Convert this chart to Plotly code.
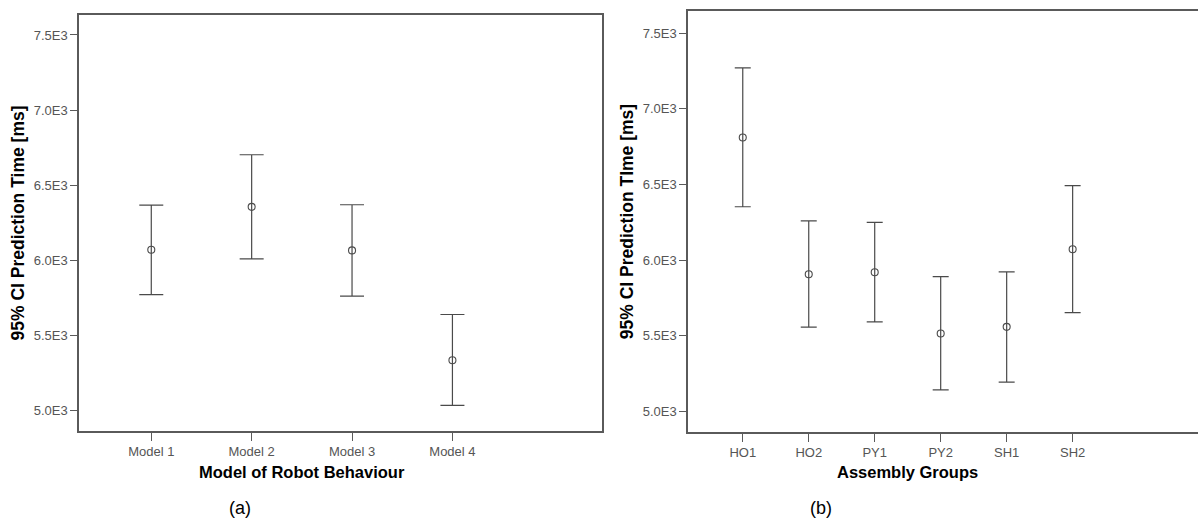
import plotly.graph_objects as go

# ---- data ----
models = ["Model 1", "Model 2", "Model 3", "Model 4"]
model_mean = [6069, 6355, 6065, 5333]
model_upper = [6367, 6702, 6369, 5638]
model_lower = [5771, 6009, 5760, 5033]

groups = ["HO1", "HO2", "PY1", "PY2", "SH1", "SH2"]
group_mean = [6811, 5907, 5920, 5515, 5559, 6072]
group_upper = [7271, 6259, 6250, 5891, 5922, 6492]
group_lower = [6353, 5557, 5592, 5143, 5194, 5653]

y_tickvals = [5000, 5500, 6000, 6500, 7000, 7500]
y_ticktext = ["5.0E3", "5.5E3", "6.0E3", "6.5E3", "7.0E3", "7.5E3"]

W, H = 1198, 521
line_col = "#4a4a4a"
frame_col = "#5a5a5a"
tick_font = dict(family="Liberation Sans Narrow, Liberation Sans, Arial", size=13, color="#555555")
xtitle_font = dict(family="Liberation Sans, Arial", size=16.5, color="#000000")
ytitle_font = dict(family="Liberation Sans, Arial", size=17.5, color="#000000")
label_font = dict(family="Liberation Sans Narrow, Liberation Sans, Arial", size=18, color="#000000")

fig = go.Figure()

def add_series(cats, mean, upper, lower, xa, ya, capw):
    fig.add_trace(go.Scatter(
        x=cats, y=mean, mode="markers", xaxis=xa, yaxis=ya,
        marker=dict(symbol="circle-open", size=7, color=line_col, line=dict(width=1.1, color=line_col)),
        error_y=dict(type="data", symmetric=False,
                     array=[u - m for u, m in zip(upper, mean)],
                     arrayminus=[m - l for m, l in zip(mean, lower)],
                     color=line_col, thickness=1.2, width=capw),
        showlegend=False, hoverinfo="x+y"))

add_series(models, model_mean, model_upper, model_lower, "x", "y", 12)
add_series(groups, group_mean, group_upper, group_lower, "x2", "y2", 8)

def px_x(p):
    return p / W

def px_y(p):
    return 1 - p / H

common_x = dict(type="category", showline=True, linecolor=frame_col, linewidth=1.5,
                ticks="outside", ticklen=8, tickcolor=frame_col, tickwidth=1.2,
                tickfont=tick_font, showgrid=False, zeroline=False)
common_y = dict(showline=True, linecolor=frame_col, linewidth=1.5,
                ticks="outside", ticklen=7, tickcolor=frame_col, tickwidth=1.2,
                tickfont=tick_font, showgrid=False, zeroline=False,
                tickvals=y_tickvals, ticktext=y_ticktext,
                title_font=ytitle_font)

fig.update_layout(
    width=W, height=H,
    margin=dict(l=0, r=0, t=0, b=0),
    paper_bgcolor="white", plot_bgcolor="white",
    xaxis=dict(common_x, domain=[px_x(79), px_x(602)], range=[-0.72, 4.49], mirror=True, anchor="y"),
    yaxis=dict(common_y, domain=[px_y(431), px_y(15)], range=[4862, 7633], mirror=True,
               anchor="x", title=dict(text="<b>95% CI Prediction Time [ms]</b>", standoff=5)),
    xaxis2=dict(common_x, domain=[px_x(688), 1.0], range=[-0.83, 6.9], mirror=True, anchor="y2"),
    yaxis2=dict(common_y, domain=[px_y(432), px_y(11)], range=[4864, 7647], mirror=False,
                anchor="x2", title=dict(text="<b>95% CI Prediction TIme [ms]</b>", standoff=5)),
    annotations=[
        # x-axis titles, centred over the category span as in the reference
        dict(text="<b>Model of Robot Behaviour</b>", x=1.5, y=px_y(472), xref="x", yref="paper",
             showarrow=False, xanchor="center", yanchor="middle", font=xtitle_font),
        dict(text="<b>Assembly Groups</b>", x=2.5, y=px_y(472), xref="x2", yref="paper",
             showarrow=False, xanchor="center", yanchor="middle", font=xtitle_font),
        dict(text="(a)", x=px_x(240), y=px_y(508), xref="paper", yref="paper",
             showarrow=False, xanchor="center", yanchor="middle", font=label_font),
        dict(text="(b)", x=px_x(821), y=px_y(508), xref="paper", yref="paper",
             showarrow=False, xanchor="center", yanchor="middle", font=label_font),
    ],
)

fig.write_html("out.html")
